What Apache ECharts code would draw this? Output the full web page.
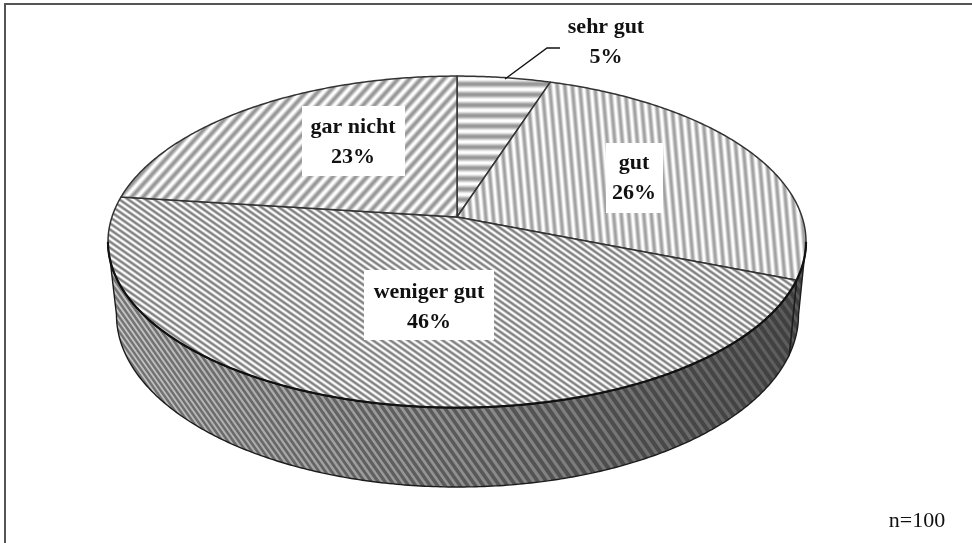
<!DOCTYPE html>
<html>
<head>
<meta charset="utf-8">
<style>
  html, body { margin: 0; padding: 0; background: #fff; }
  #chart { width: 972px; height: 543px; }
</style>
<script src="https://cdn.jsdelivr.net/npm/echarts@6/dist/echarts.min.js"></script>
</head>
<body>
<div id="chart"></div>
<script>
const categories = ['sehr gut', 'gut', 'weniger gut', 'gar nicht']
const shares = [5, 26, 46, 23]
const sampleNote = 'n=100'

// Perspektive der Scheibe: Oberseite und Unterseite
const topDisc = { cx: 457, rx: 349, a: 217, b: 129.5 }
const bottomDisc = { cx: 457.5, rx: 341, a: 289.2, b: 124.75 }
const tilt = -0.15
const font = '"Liberation Serif", serif'

// weiche Streifen, das Original wirkt leicht unscharf
const stripes = (period, gray, rotationDeg) => {
    const scale = 4
    const tile = document.createElement('canvas')
    tile.width = Math.round(period * scale)
    tile.height = 4
    const ctx = tile.getContext('2d')
    for (let x = 0; x < tile.width; x++) {
        const w = 0.5 + 0.5 * Math.cos(2 * Math.PI * x / tile.width)
        const c = Math.round(255 - (255 - gray) * w)
        ctx.fillStyle = `rgb(${c},${c},${c})`
        ctx.fillRect(x, 0, 1, 4)
    }
    return {
        image: tile,
        repeat: 'repeat',
        rotation: rotationDeg * Math.PI / 180,
        scaleX: 1 / scale,
        scaleY: 1 / scale
    }
}

const facePatterns = [
    stripes(10.5, 150, 90),
    stripes(7.5, 160, -5),
    stripes(5, 125, -55),
    stripes(8.5, 150, 42)
]

// Seitenwand: nach rechts dunkler, Streifen werden breiter
const wallTexture = () => {
    const c = document.createElement('canvas')
    c.width = 972
    c.height = 543
    const ctx = c.getContext('2d')
    const g = ctx.createLinearGradient(110, 0, 800, 0)
    g.addColorStop(0, '#c8c8c8')
    g.addColorStop(0.2, '#aeaeae')
    g.addColorStop(0.5, '#909090')
    g.addColorStop(0.8, '#6e6e6e')
    g.addColorStop(1, '#5a5a5a')
    ctx.fillStyle = g
    ctx.fillRect(0, 0, 972, 543)
    let x = -300
    while (x < 1000) {
        const t = Math.min(1, Math.max(0, (x + 100) / 500))
        const step = 3.5 + 5.5 * t
        ctx.strokeStyle = 'rgba(35,35,35,0.5)'
        ctx.lineWidth = step * 0.45
        ctx.beginPath()
        ctx.moveTo(x, 230)
        ctx.lineTo(x + 190, 500)
        ctx.stroke()
        x += step
    }
    return { image: c, repeat: 'no-repeat' }
}
const wallPattern = wallTexture()

const rimPoint = (disc, angle) => {
    const u = Math.sin(angle)
    const v = -Math.cos(angle)
    const d = 1 + tilt * v
    const A = disc.rx * Math.sqrt(1 - tilt * tilt)
    return [disc.cx + A * u / d, (disc.a + disc.b * v) / d]
}

const arc = (disc, from, to) => {
    const n = Math.max(2, Math.ceil(Math.abs(to - from) / 0.01))
    const pts = []
    for (let i = 0; i <= n; i++) {
        pts.push(rimPoint(disc, from + (to - from) * i / n))
    }
    return pts
}

const total = shares.reduce((s, v) => s + v, 0)
const starts = shares.map((_, i) => shares.slice(0, i).reduce((s, v) => s + v, 0))

// sichtbarer Bereich der Wand: zwischen den beiden Umrisspunkten
const wallFrom = Math.acos(tilt)
const wallTo = 2 * Math.PI - wallFrom

const renderSlice = (params, api) => {
    const start = api.value(1) / total * 2 * Math.PI
    const end = (api.value(1) + api.value(0)) / total * 2 * Math.PI
    const children = []

    const a = Math.max(start, wallFrom)
    const b = Math.min(end, wallTo)
    const hasWall = b > a
    if (hasWall) {
        children.push({
            type: 'polygon',
            shape: { points: arc(topDisc, a, b).concat(arc(bottomDisc, b, a)) },
            style: { fill: wallPattern, stroke: '#1c1c1c', lineWidth: 1.4 }
        })
    }

    const apex = [topDisc.cx, topDisc.a]
    children.push({
        type: 'polygon',
        shape: { points: [apex].concat(arc(topDisc, start, end)) },
        style: { fill: facePatterns[params.dataIndex], stroke: '#333', lineWidth: 1.5, lineJoin: 'round' }
    })
    // vordere Kante kraeftiger
    if (hasWall) {
        children.push({
            type: 'polyline',
            shape: { points: arc(topDisc, a, b) },
            style: { fill: null, stroke: '#111', lineWidth: 2.2 }
        })
    }
    return { type: 'group', children }
}

const labelBox = (x, y, w, h) => ({
    type: 'rect',
    z: 10,
    shape: { x, y, width: w, height: h },
    style: { fill: '#fff' }
})

const labelText = (i, x, y) => ({
    type: 'text',
    z: 11,
    x,
    y,
    style: {
        text: categories[i] + '\n' + shares[i] + '%',
        font: 'bold 22px ' + font,
        lineHeight: 30,
        fill: '#111',
        align: 'center',
        verticalAlign: 'middle'
    }
})

const chart = echarts.init(document.getElementById('chart'), null, { renderer: 'canvas' })
chart.setOption({
    animation: false,
    backgroundColor: '#fff',
    series: [{
        type: 'custom',
        coordinateSystem: 'none',
        silent: true,
        renderItem: renderSlice,
        encode: { value: 0 },
        data: shares.map((v, i) => [v, starts[i]])
    }],
    graphic: [
        // Rahmen oben und links
        { type: 'line', shape: { x1: 5, y1: 4, x2: 972, y2: 4 }, style: { stroke: '#555', lineWidth: 2 } },
        { type: 'line', shape: { x1: 5, y1: 3, x2: 5, y2: 543 }, style: { stroke: '#555', lineWidth: 2 } },
        // Fuehrungslinie zu "sehr gut"
        { type: 'polyline', z: 9, shape: { points: [[505, 79], [547, 48], [560, 48]] }, style: { stroke: '#111', lineWidth: 1.4, fill: null } },
        labelBox(302, 106, 103, 70),
        labelBox(606, 143, 57, 70),
        labelBox(364, 270, 130, 70),
        labelText(0, 606, 42),
        labelText(1, 634, 178),
        labelText(2, 429, 307),
        labelText(3, 353, 142),
        {
            type: 'text',
            z: 11,
            x: 917,
            y: 521,
            style: { text: sampleNote, font: '22px ' + font, fill: '#111', align: 'center', verticalAlign: 'middle' }
        }
    ]
})
</script>
</body>
</html>
